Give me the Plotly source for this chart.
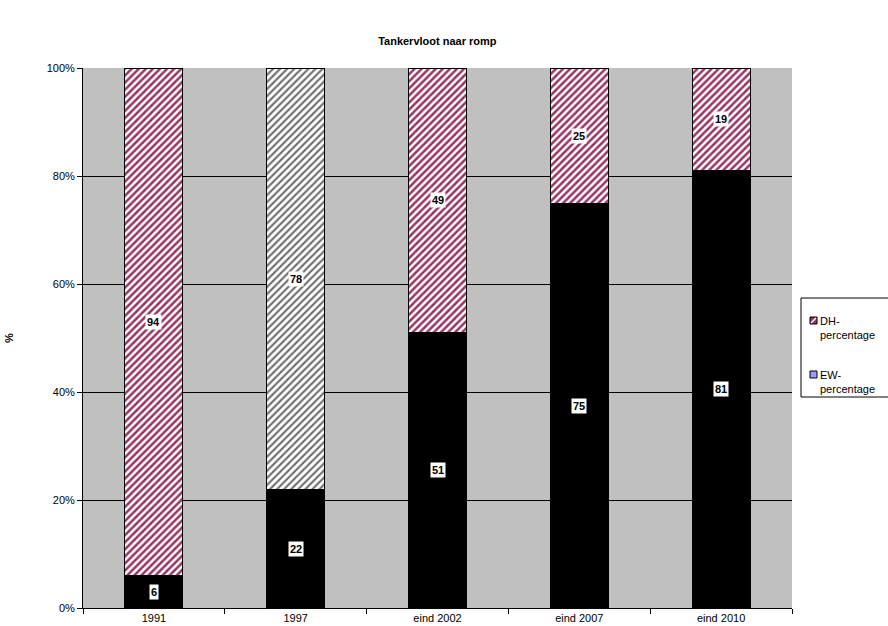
import plotly.graph_objects as go

categories = ["1991", "1997", "eind 2002", "eind 2007", "eind 2010"]
ew_values = [6, 22, 51, 75, 81]
dh_values = [94, 78, 49, 25, 19]
title_text = "Tankervloot naar romp"
y_ticks = [0, 20, 40, 60, 80, 100]
y_ticklabels = ["0%", "20%", "40%", "60%", "80%", "100%"]
legend_names = ["DH-<br>percentage", "EW-<br>percentage"]

FONT = "Liberation Sans, Arial, sans-serif"
W, H = 888, 626
L, R, T, B = 83, 96, 68, 18
PW, PH = W - L - R, H - T - B


def px(x):
    return (x - L) / PW


def py(y):
    return (H - B - y) / PH


fig = go.Figure()

# EW (bottom, black)
fig.add_trace(go.Bar(
    x=categories, y=ew_values, name="EW-percentage",
    marker=dict(color="black", line=dict(color="black", width=1)),
    showlegend=False, hoverinfo="skip",
))
# DH (top, patterned)
dh_fg = ["#993366", "#707070", "#993366", "#993366", "#993366"]
dh_solidity = [0.5, 0.42, 0.5, 0.5, 0.5]
fig.add_trace(go.Bar(
    x=categories, y=dh_values, name="DH-percentage",
    marker=dict(color="white", line=dict(color="black", width=1),
                pattern=dict(shape="/", fgcolor=dh_fg, bgcolor="white",
                             size=5, solidity=dh_solidity, fgopacity=1)),
    showlegend=False, hoverinfo="skip",
))

annotations = []
for i, (e, d) in enumerate(zip(ew_values, dh_values)):
    annotations.append(dict(x=i, y=e / 2, xref="x", yref="y", text=f"<b>{e}</b>",
                            showarrow=False, bgcolor="white",
                            font=dict(family=FONT, size=11, color="black"), borderpad=1))
    annotations.append(dict(x=i, y=e + d / 2, xref="x", yref="y", text=f"<b>{d}</b>",
                            showarrow=False, bgcolor="white",
                            font=dict(family=FONT, size=11, color="black"), borderpad=1))

# legend drawn as box + swatches + text
shapes = [
    dict(type="rect", xref="paper", yref="paper", x0=px(801), x1=px(905),
         y0=py(397), y1=py(298), line=dict(color="black", width=1),
         fillcolor="white", layer="above"),
    dict(type="rect", xref="paper", yref="paper", x0=px(810), x1=px(817),
         y0=py(324), y1=py(317), line=dict(color="black", width=1),
         fillcolor="#993366", layer="above"),
    dict(type="line", xref="paper", yref="paper", x0=px(811), x1=px(816),
         y0=py(323), y1=py(318), line=dict(color="white", width=1.5), layer="above"),
    dict(type="rect", xref="paper", yref="paper", x0=px(810), x1=px(817),
         y0=py(378), y1=py(371), line=dict(color="black", width=1),
         fillcolor="#9999FF", layer="above"),
]
for name, ytop in zip(legend_names, [313, 367]):
    annotations.append(dict(x=px(818), y=py(ytop), xref="paper", yref="paper",
                            xanchor="left", yanchor="top", align="left",
                            text=name, showarrow=False,
                            font=dict(family=FONT, size=11, color="black")))

fig.update_layout(
    template="none",
    width=W, height=H,
    barmode="stack", bargap=0.59,
    paper_bgcolor="white", plot_bgcolor="#C0C0C0",
    margin=dict(l=L, r=R, t=T, b=B, autoexpand=False),
    font=dict(family=FONT, size=11, color="black"),
    showlegend=False,
    title=dict(text="<b>" + title_text + "</b>", x=0.4925, xanchor="center",
               y=1 - 41 / H, yanchor="middle", font=dict(family=FONT, size=11, color="black")),
    xaxis=dict(type="category", categoryorder="array", categoryarray=categories,
               range=[-0.5, len(categories) - 0.5],
               tickson="boundaries", ticks="outside", ticklen=5,
               tickcolor="black", showline=True, linecolor="black", linewidth=1,
               showgrid=False, automargin=False,
               tickfont=dict(size=11, color="black")),
    yaxis=dict(range=[0, 100], tickvals=y_ticks, ticktext=y_ticklabels,
               ticks="outside", ticklen=5, tickcolor="black", showline=True,
               linecolor="black", linewidth=1, showgrid=True, gridcolor="black",
               gridwidth=1, automargin=False, zeroline=False,
               tickfont=dict(size=11, color="black"),
               title=dict(text="<b>%</b>", standoff=30, font=dict(size=11, color="black"))),
    annotations=annotations,
    shapes=shapes,
)

fig.write_html("out.html")
